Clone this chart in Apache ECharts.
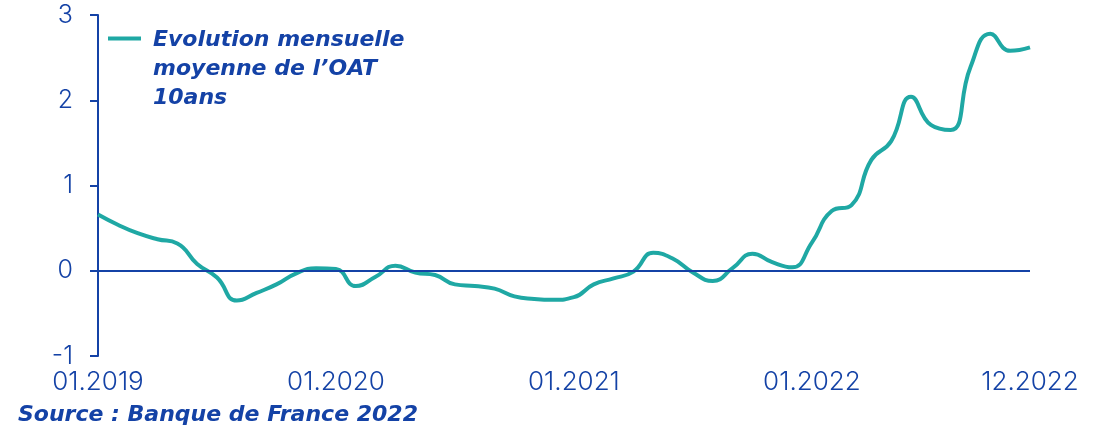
<!DOCTYPE html>
<html lang="fr">
<head>
<meta charset="UTF-8">
<title>OAT 10 ans</title>
<script src="https://cdn.jsdelivr.net/npm/echarts@6/dist/echarts.min.js"></script>
<style>
  html, body { margin: 0; padding: 0; background: #fff; }
  #main { width: 1099px; height: 430px; }
</style>
</head>
<body>
<div id="main"></div>
<script>
// mois de 01.2019 à 12.2022
var months = [];
for (var y = 2019; y <= 2022; y++) {
  for (var m = 1; m <= 12; m++) {
    months.push((m < 10 ? '0' + m : '' + m) + '.' + y);
  }
}
var shownLabels = ['01.2019', '01.2020', '01.2021', '01.2022', '12.2022'];

// taux moyen mensuel de l'OAT 10 ans (%)
var oat2019 = [0.66, 0.54, 0.44, 0.37, 0.32, 0.08, -0.08, -0.35, -0.26, -0.16, -0.03, 0.03];
var oat2020 = [0.02, -0.18, -0.07, 0.06, -0.02, -0.05, -0.16, -0.18, -0.21, -0.30, -0.33, -0.34];
var oat2021 = [-0.31, -0.16, -0.09, -0.01, 0.21, 0.14, -0.02, -0.12, 0.03, 0.20, 0.10, 0.04];
var oat2022 = [0.33, 0.70, 0.77, 1.30, 1.52, 2.04, 1.71, 1.65, 2.39, 2.78, 2.58, 2.62];
var oat = oat2019.concat(oat2020, oat2021, oat2022);

var blue = '#1442a6';
var teal = '#1fa8a4';
var labelFont = 'Inter';
var boldFont = 'DejaVu Sans';
var serieName = 'Evolution mensuelle\nmoyenne de l’OAT\n10ans';

var chart = echarts.init(document.getElementById('main'));
chart.setOption({
  backgroundColor: '#fff',
  animation: false,
  title: {
    text: 'Source : Banque de France 2022',
    left: 18,
    top: 404,
    padding: 0,
    textStyle: { color: blue, fontFamily: boldFont, fontSize: 22, fontWeight: 'bold', fontStyle: 'italic' }
  },
  legend: {
    left: 108,
    top: 26,
    padding: 0,
    itemWidth: 40,
    itemHeight: 87,
    // trait en haut du bloc pour rester sur la première ligne
    icon: 'path://M0,10.5H33V14.5H0Z M39.99,0H40V0.01H39.99Z M0,86.99H0.01V87H0Z',
    data: [serieName],
    textStyle: {
      color: blue, fontFamily: boldFont, fontSize: 22, fontWeight: 'bold', fontStyle: 'italic',
      lineHeight: 29
    }
  },
  grid: { left: 98, right: 69, top: 15, bottom: 74 },
  xAxis: {
    type: 'category',
    data: months,
    boundaryGap: false,
    axisLine: { show: false },
    axisTick: { show: false },
    axisLabel: {
      interval: function (i, v) { return shownLabels.indexOf(v) >= 0; },
      color: blue, fontFamily: labelFont, fontSize: 26, fontWeight: 300, margin: 13
    }
  },
  yAxis: {
    type: 'value',
    min: -1,
    max: 3,
    interval: 1,
    axisLine: { show: true, lineStyle: { color: blue, width: 2 } },
    axisTick: { show: true, length: 8, lineStyle: { color: blue, width: 2 } },
    splitLine: { show: false },
    axisLabel: { color: blue, fontFamily: labelFont, fontSize: 25, fontWeight: 300, margin: 25 }
  },
  series: [{
    name: serieName,
    type: 'line',
    data: oat,
    smooth: true,
    symbol: 'none',
    lineStyle: { color: teal, width: 4 },
    itemStyle: { color: teal },
    markLine: {
      silent: true,
      symbol: 'none',
      label: { show: false },
      lineStyle: { color: blue, width: 2, type: 'solid' },
      data: [{ yAxis: 0 }]
    },
    z: 3
  }]
});
</script>
</body>
</html>
